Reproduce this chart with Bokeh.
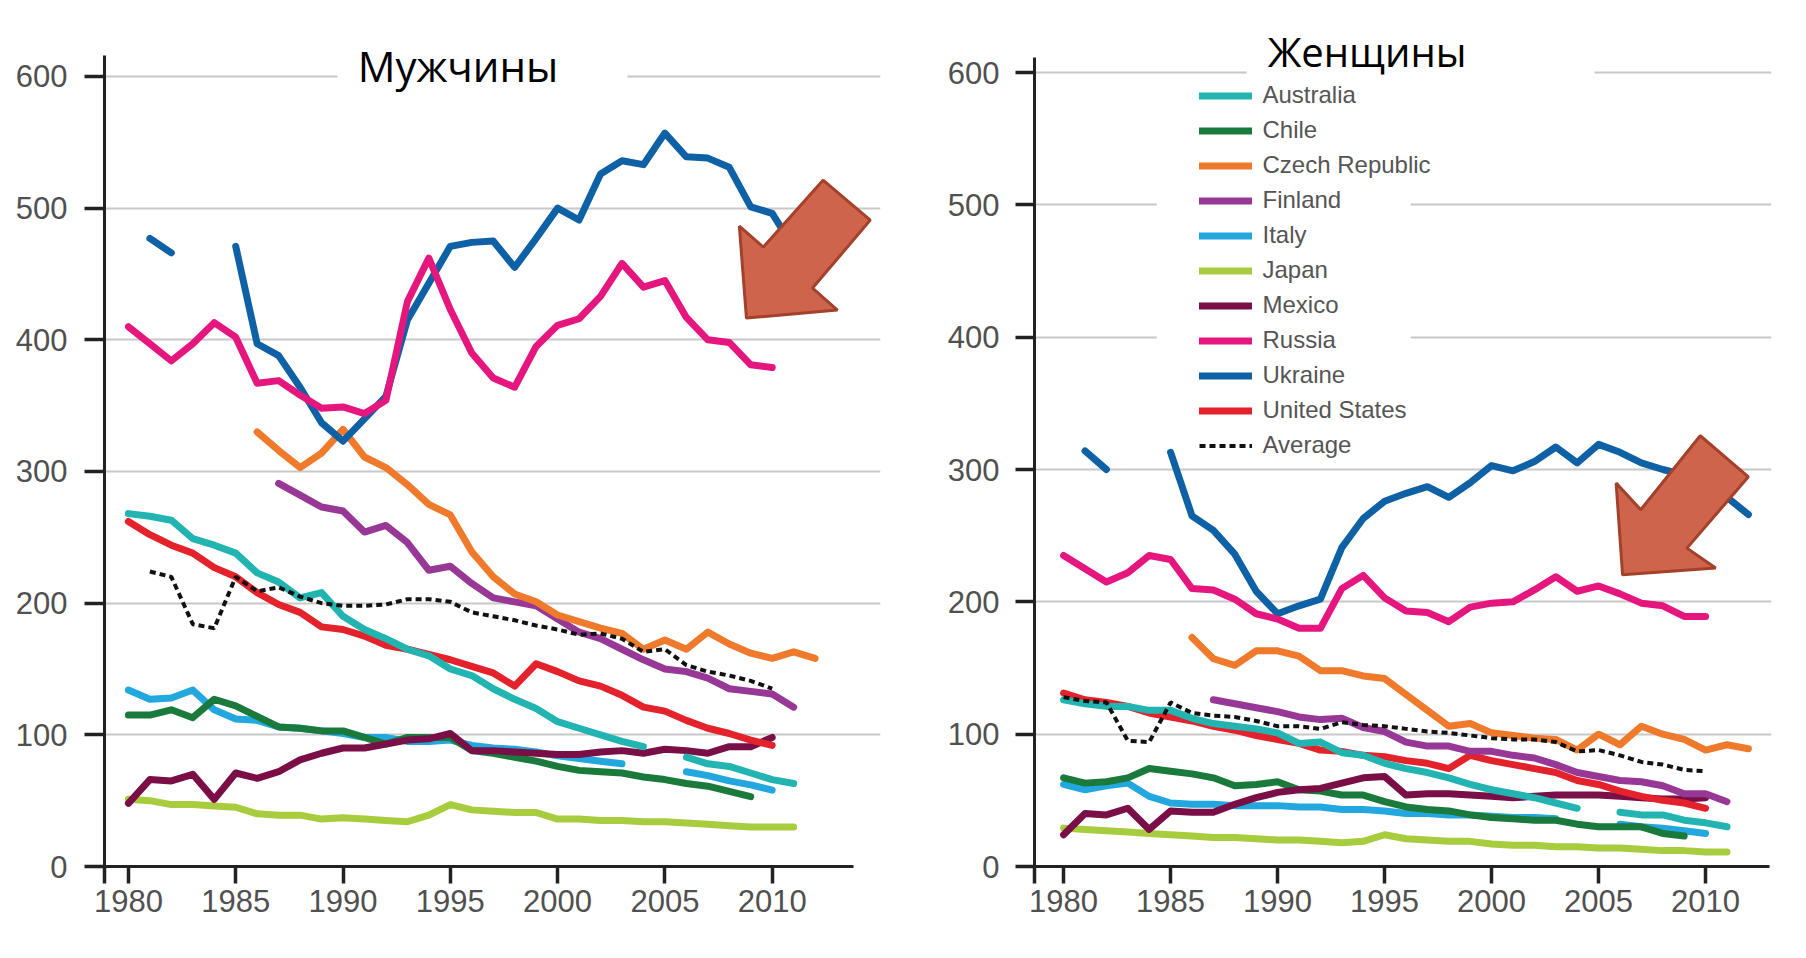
import numpy as np
from bokeh.plotting import figure
from bokeh.models import Range1d, FixedTicker, Legend, LegendItem, BoxAnnotation, Label
from bokeh.layouts import row
from bokeh.embed import file_html
from bokeh.resources import INLINE

N = None

# ---------------- data: (first year, values per year; None = gap) ----------------
# Men (Мужчины)
AUS_M = (1980, [268, 266, 263, 249, 244, 238, 223, 216, 204, 208, 190, 180, 173, 165, 160, 150,
                145, 135, 127, 120, 110, 105, 100, 95, 91, N, 83, 78, 76, 71, 66, 63])
CHL_M = (1980, [115, 115, 119, 113, 127, 122, 114, 106, 105, 103, 103, 98, 93, 98, 98, 98,
                88, 86, 83, 80, 76, 73, 72, 71, 68, 66, 63, 61, 57, 53])
CZE_M = (1986, [330, 316, 303, 314, 332, 311, 303, 290, 275, 267, 239, 220, 207, 201, 191,
                186, 181, 177, 165, 172, 165, 178, 169, 162, 158, 163, 158])
FIN_M = (1987, [291, 282, 273, 270, 254, 259, 246, 225, 228, 215, 204, 201, 198, 188, 178,
                173, 165, 157, 150, 148, 143, 135, 133, 131, 121])
ITA_M = (1980, [134, 127, 128, 134, 119, 112, 111, 106, 105, 103, 101, 98, 98, 95, 95, 96,
                92, 90, 89, 87, 84, 82, 80, 78, N, N, 72, 69, 65, 62, 58])
JPN_M = (1980, [51, 50, 47, 47, 46, 45, 40, 39, 39, 36, 37, 36, 35, 34, 39, 47,
                43, 42, 41, 41, 36, 36, 35, 35, 34, 34, 33, 32, 31, 30, 30, 30])
MEX_M = (1980, [48, 66, 65, 70, 51, 71, 67, 72, 81, 86, 90, 90, 93, 96, 97, 101,
                88, 88, 87, 86, 85, 85, 87, 88, 86, 89, 88, 86, 91, 91, 98])
RUS_M = (1980, [410, 397, 384, 397, 413, 402, 367, 369, 358, 348, 349, 344, 354, 429, 462, 423,
                390, 371, 364, 395, 411, 416, 433, 458, 440, 445, 417, 400, 398, 381, 379])
UKR_M = (1980, [N, 477, 466, N, N, 471, 397, 388, 364, 337, 323, 340, 357, 415, 443, 471,
                474, 475, 455, 477, 500, 491, 526, 536, 533, 557, 539, 538, 531, 501, 496, 470])
USA_M = (1980, [262, 252, 244, 238, 227, 220, 208, 199, 193, 182, 180, 175, 168, 165, 161, 157,
                152, 147, 137, 154, 148, 141, 137, 130, 121, 118, 111, 105, 101, 96, 92])
AVG_M = (1981, [224, 220, 184, 181, 220, 209, 212, 205, 200, 198, 198, 199, 203, 203, 201,
                193, 190, 187, 183, 180, 176, 177, 173, 163, 165, 153, 148, 145, 141, 135])

# Women (Женщины)
AUS_W = (1980, [126, 123, 121, 121, 118, 118, 112, 108, 106, 104, 101, 93, 94, 86, 84, 78,
                74, 71, 67, 62, 58, 55, 52, 48, 44, N, 41, 39, 39, 35, 33, 30])
CHL_W = (1980, [67, 63, 64, 67, 74, 72, 70, 67, 61, 62, 64, 58, 57, 54, 54, 49,
                45, 43, 42, 39, 37, 36, 35, 35, 32, 30, 30, 30, 25, 23])
CZE_W = (1986, [173, 157, 152, 163, 163, 159, 148, 148, 144, 142, 130, 118, 106, 108, 101,
                99, 97, 96, 88, 100, 92, 106, 100, 96, 88, 92, 89])
FIN_W = (1987, [126, 123, 120, 117, 113, 111, 112, 105, 102, 94, 91, 91, 87, 87, 84,
                82, 77, 71, 68, 65, 64, 61, 55, 55, 49])
ITA_W = (1980, [62, 58, 61, 63, 53, 48, 47, 47, 46, 46, 46, 45, 45, 43, 43, 42,
                40, 40, 39, 39, 38, 37, 37, 36, N, N, 32, 30, 29, 27, 25])
JPN_W = (1980, [29, 28, 27, 26, 25, 24, 23, 22, 22, 21, 20, 20, 19, 18, 19, 24,
                21, 20, 19, 19, 17, 16, 16, 15, 15, 14, 14, 13, 12, 12, 11, 11])
MEX_W = (1980, [24, 40, 39, 44, 28, 42, 41, 41, 47, 52, 56, 58, 59, 63, 67, 68,
                54, 55, 55, 54, 53, 52, 53, 54, 54, 54, 53, 52, 51, 51, 52])
RUS_W = (1980, [235, 225, 215, 222, 235, 232, 210, 209, 202, 191, 187, 180, 180, 210, 220, 203,
                193, 192, 185, 196, 199, 200, 209, 219, 208, 212, 206, 199, 197, 189, 189])
UKR_W = (1980, [N, 314, 300, N, N, 313, 265, 254, 236, 208, 191, 197, 202, 241, 263, 276,
                282, 287, 279, 290, 303, 299, 306, 317, 305, 319, 313, 305, 300, 296, 288, 279, 266])
USA_W = (1980, [131, 126, 124, 121, 116, 113, 110, 106, 103, 99, 96, 93, 88, 87, 84, 83,
                80, 78, 74, 84, 80, 77, 74, 71, 65, 62, 57, 53, 50, 48, 44])
AVG_W = (1980, [128, 125, 124, 95, 94, 124, 116, 114, 113, 110, 106, 106, 104, 109, 107, 106,
                104, 102, 101, 99, 97, 96, 96, 94, 87, 88, 84, 79, 77, 73, 72])

COUNTRIES = ["Australia", "Chile", "Czech Republic", "Finland", "Italy", "Japan",
             "Mexico", "Russia", "Ukraine", "United States"]
COLORS = {"Australia": "#22B4B1", "Chile": "#1A7A3C", "Czech Republic": "#F07A2C",
          "Finland": "#983896", "Italy": "#22A7DE", "Japan": "#A7CC3E",
          "Mexico": "#7A0E46", "Russia": "#E5177F", "Ukraine": "#0F61A6",
          "United States": "#E3222B"}
MEN = {"Australia": AUS_M, "Chile": CHL_M, "Czech Republic": CZE_M, "Finland": FIN_M,
       "Italy": ITA_M, "Japan": JPN_M, "Mexico": MEX_M, "Russia": RUS_M,
       "Ukraine": UKR_M, "United States": USA_M}
WOMEN = {"Australia": AUS_W, "Chile": CHL_W, "Czech Republic": CZE_W, "Finland": FIN_W,
         "Italy": ITA_W, "Japan": JPN_W, "Mexico": MEX_W, "Russia": RUS_W,
         "Ukraine": UKR_W, "United States": USA_W}
DRAW_ORDER = ["Japan", "Italy", "Chile", "Mexico", "United States", "Australia",
              "Finland", "Czech Republic", "Ukraine", "Russia"]

X_TICKS = [1980, 1985, 1990, 1995, 2000, 2005, 2010]
Y_TICKS = [0, 100, 200, 300, 400, 500, 600]

# annotation arrows (data coordinates of each panel)
ARROW_M_X = [2008.80, 2008.47, 2009.59, 2012.37, 2014.57, 2011.88, 2013.04]
ARROW_M_Y = [416.5, 486.3, 470.4, 521.2, 490.9, 439.3, 422.6]
ARROW_W_X = [2006.12, 2005.82, 2006.97, 2009.75, 2012.00, 2009.13, 2010.47]
ARROW_W_Y = [220.4, 289.7, 269.6, 325.5, 294.5, 240.6, 225.5]

FONT = "Liberation Sans"


def xy(s):
    start, vals = s
    x = np.arange(start, start + len(vals), dtype=float)
    y = np.array([np.nan if v is None else v for v in vals], dtype=float)
    return x, y


def panel(data, avg, width, x0, x1, y1, axis_x_end, y_axis_top, bl, br, bb, tick_out_y, std_y):
    p = figure(width=width, height=950, x_range=Range1d(x0, x1), y_range=Range1d(0, y1),
               output_backend="svg", toolbar_location=None,
               min_border_left=bl, min_border_right=br, min_border_top=20, min_border_bottom=bb)
    p.outline_line_color = None
    p.background_fill_color = "white"
    p.border_fill_color = "white"
    p.xgrid.visible = False
    p.ygrid.ticker = FixedTicker(ticks=Y_TICKS)
    p.ygrid.grid_line_color = "#C8C8C8"
    p.ygrid.grid_line_width = 2
    p.ygrid.bounds = (x0 + 0.1, axis_x_end)

    p.xaxis.ticker = FixedTicker(ticks=[x0] + X_TICKS)
    p.xaxis.major_label_overrides = {x0: ""}
    p.xaxis.bounds = (x0, axis_x_end)
    p.xaxis.major_tick_out = 17
    p.xaxis.major_label_standoff = 6
    p.yaxis.ticker = FixedTicker(ticks=Y_TICKS)
    p.yaxis.bounds = (0, y_axis_top)
    p.yaxis.major_tick_out = tick_out_y
    p.yaxis.major_label_standoff = std_y
    for ax in (p.xaxis, p.yaxis):
        ax.axis_line_color = "#222222"
        ax.axis_line_width = 3
        ax.major_tick_line_color = "#222222"
        ax.major_tick_line_width = 3.5
        ax.major_tick_in = 0
        ax.minor_tick_line_color = None
        ax.major_label_text_font = FONT
        ax.major_label_text_font_size = "31px"
        ax.major_label_text_color = "#505050"

    rends = {}
    for name in DRAW_ORDER:
        x, y = xy(data[name])
        rends[name] = p.line(x, y, line_color=COLORS[name], line_width=7,
                             line_cap="round", line_join="round")
    ax_, ay_ = xy(avg)
    rends["Average"] = p.line(ax_, ay_, line_color="#111111", line_width=4, line_dash="6 4")
    return p, rends


# ---------------- men panel ----------------
p1, r1 = panel(MEN, AVG_M, 903, 1978.886, 2015.047, 642.5, 2013.8, 616, 104, 23, 83, 20, 17)
p1.add_layout(BoxAnnotation(left=1989.744, right=2003.258, bottom=585, top=642.5,
                            fill_color="white", fill_alpha=1, line_color=None))
p1.add_layout(Label(x=1995.36, y=608.5, text="Мужчины", text_align="center",
                    text_baseline="alphabetic", text_font="Open Sans",
                    text_font_size="42px", text_color="black"))
p1.patch(ARROW_M_X, ARROW_M_Y, fill_color="#CD644B", line_color="#A3412A", line_width=3)

# ---------------- women panel ----------------
p2, r2 = panel(WOMEN, AVG_W, 900, 1978.640, 2013.08, 639.3, 2013.0, 611, 131, 32, 84, 19, 16)
p2.add_layout(BoxAnnotation(left=1984.35, right=1996.22, bottom=308, top=588.7,
                            fill_color="white", fill_alpha=1, line_color=None, level="underlay"))
items = [LegendItem(label=n, renderers=[r2[n]]) for n in COUNTRIES + ["Average"]]
legend = Legend(items=items, location=(164.5, 403.5), padding=0, margin=0, spacing=0,
                glyph_width=53, glyph_height=35, label_height=35, label_standoff=11,
                label_text_font=FONT, label_text_font_size="24px", label_text_color="#555555",
                background_fill_alpha=0, border_line_color=None)
p2.add_layout(legend)
p2.add_layout(BoxAnnotation(left=1988.55, right=2004.81, bottom=588.7, top=639.3,
                            fill_color="white", fill_alpha=1, line_color=None))
p2.add_layout(Label(x=1994.18, y=616, text="Женщины", text_align="center",
                    text_baseline="alphabetic", text_font="Open Sans",
                    text_font_size="40px", text_color="black"))
p2.patch(ARROW_W_X, ARROW_W_Y, fill_color="#CD644B", line_color="#A3412A", line_width=3)

layout = row(p1, p2)
open("out.html", "w").write(file_html(layout, INLINE))
